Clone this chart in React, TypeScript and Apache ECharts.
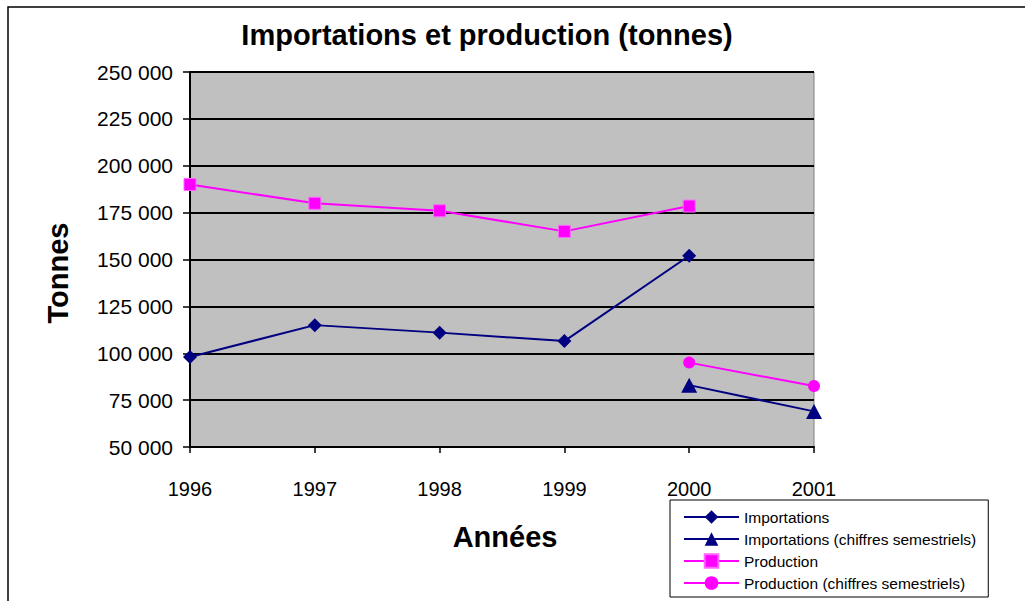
import React, { useEffect, useRef } from "react";
import * as echarts from "echarts";

const years = ["1996", "1997", "1998", "1999", "2000", "2001"];
const importations = [98000, 115000, 111000, 106500, 152000, null];
const importationsSem = [null, null, null, null, 83000, 69000];
const production = [190000, 180000, 176000, 165000, 178500, null];
const productionSem = [null, null, null, null, 95000, 82500];

const titleText = "Importations et production (tonnes)";
const yName = "Tonnes";
const xName = "Années";
const seriesNames = [
  "Importations",
  "Importations (chiffres semestriels)",
  "Production",
  "Production (chiffres semestriels)",
];

const NAVY = "#000080";
const MAGENTA = "#FF00FF";
const FONT = "'Liberation Sans', Arial, sans-serif";

export default function App() {
  const ref = useRef<HTMLDivElement>(null);
  useEffect(() => {
    if (!ref.current) return;
    const chart = echarts.init(ref.current, null, { renderer: "svg" });
    const fmt = (v: number) => {
      const s = String(Math.round(v));
      return s.replace(/\B(?=(\d{3})+(?!\d))/g, " ");
    };
    chart.setOption({
      animation: false,
      textStyle: { fontFamily: FONT },
      grid: {
        left: 190,
        top: 72,
        right: 1025 - 814,
        bottom: 601 - 447,
        show: true,
        backgroundColor: "#C0C0C0",
        borderColor: "#808080",
        borderWidth: 1,
      },
      xAxis: {
        type: "category",
        data: years,
        boundaryGap: false,
        axisLine: { lineStyle: { color: "#000", width: 2 } },
        axisTick: { show: true, length: 6, alignWithLabel: true, lineStyle: { color: "#000", width: 1.5 } },
        axisLabel: { color: "#000", fontSize: 20, margin: 32, fontFamily: FONT },
        splitLine: { show: false },
      },
      yAxis: {
        type: "value",
        min: 50000,
        max: 250000,
        interval: 25000,
        axisLine: { show: true, lineStyle: { color: "#000", width: 2 } },
        axisTick: { show: true, length: 7, lineStyle: { color: "#000", width: 1.5 } },
        axisLabel: {
          color: "#000",
          fontSize: 21,
          margin: 17,
          fontFamily: FONT,
          formatter: (v: number) => fmt(v),
        },
        splitLine: { show: true, lineStyle: { color: "#000", width: 2 } },
      },
      legend: {
        orient: "vertical",
        left: 670,
        top: 500,
        height: 300,
        padding: [9, 12, 6, 13],
        itemWidth: 55,
        itemHeight: 17,
        itemGap: 6,
        backgroundColor: "#fff",
        borderColor: "#000",
        borderWidth: 1,
        borderRadius: 0,
        textStyle: { color: "#000", fontSize: 15.5, fontFamily: FONT },
        data: seriesNames,
      },
      series: [
        {
          name: seriesNames[0],
          type: "line",
          data: importations,
          symbol: "diamond",
          symbolSize: 14,
          showAllSymbol: true,
          lineStyle: { color: NAVY, width: 2 },
          itemStyle: { color: NAVY },
        },
        {
          name: seriesNames[1],
          type: "line",
          data: importationsSem,
          symbol: "triangle",
          symbolSize: [16, 15],
          showAllSymbol: true,
          lineStyle: { color: NAVY, width: 2 },
          itemStyle: { color: NAVY },
        },
        {
          name: seriesNames[2],
          type: "line",
          data: production,
          symbol: "rect",
          symbolSize: 12,
          showAllSymbol: true,
          lineStyle: { color: MAGENTA, width: 2 },
          itemStyle: { color: MAGENTA, borderColor: "#FF66FF", borderWidth: 1 },
        },
        {
          name: seriesNames[3],
          type: "line",
          data: productionSem,
          symbol: "circle",
          symbolSize: 12,
          showAllSymbol: true,
          lineStyle: { color: MAGENTA, width: 2 },
          itemStyle: { color: MAGENTA },
        },
      ],
      graphic: [
        {
          type: "rect",
          z: -10,
          silent: true,
          shape: { x: 8, y: 7, width: 1200, height: 800 },
          style: { fill: "#fff", stroke: "#000", lineWidth: 1.5 },
        },
        {
          type: "text",
          x: 487,
          y: 35,
          style: {
            text: titleText,
            fontSize: 29,
            fontWeight: "bold",
            fontFamily: FONT,
            fill: "#000",
            align: "center",
            verticalAlign: "middle",
          },
        },
        {
          type: "text",
          x: 58,
          y: 273,
          rotation: Math.PI / 2,
          style: {
            text: yName,
            fontSize: 29,
            fontWeight: "bold",
            fontFamily: FONT,
            fill: "#000",
            align: "center",
            verticalAlign: "middle",
          },
        },
        {
          type: "text",
          x: 505,
          y: 537,
          style: {
            text: xName,
            fontSize: 29,
            fontWeight: "bold",
            fontFamily: FONT,
            fill: "#000",
            align: "center",
            verticalAlign: "middle",
          },
        },
      ],
    });
    return () => chart.dispose();
  }, []);
  return (
    <div
      ref={ref}
      style={{ position: "absolute", left: 0, top: 0, width: 1025, height: 601 }}
    />
  );
}
